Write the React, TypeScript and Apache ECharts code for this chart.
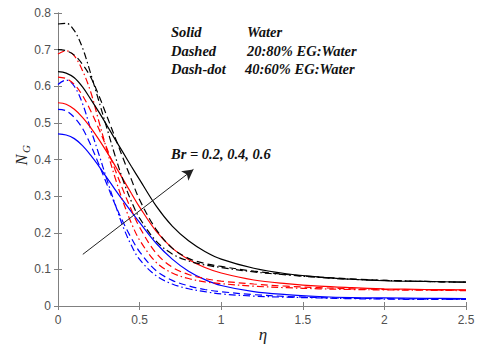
import React, { useEffect, useRef } from "react";
import * as echarts from "echarts";

// similarity variable eta (x axis)
const eta = [0, 0.05, 0.1, 0.15, 0.2, 0.25, 0.3, 0.35, 0.4, 0.45, 0.5, 0.6, 0.7, 0.8, 0.9, 1.0, 1.2, 1.4, 1.6, 1.8, 2.0, 2.25, 2.5];

// Br = 0.6 (black)
const blackSolid = [0.64, 0.636, 0.623, 0.598, 0.565, 0.53, 0.493, 0.455, 0.418, 0.381, 0.345, 0.274, 0.218, 0.178, 0.149, 0.128, 0.103, 0.088, 0.079, 0.073, 0.069, 0.067, 0.065];
const blackDashed = [0.7, 0.697, 0.685, 0.66, 0.625, 0.575, 0.518, 0.46, 0.402, 0.345, 0.29, 0.21, 0.158, 0.13, 0.116, 0.108, 0.095, 0.086, 0.079, 0.074, 0.07, 0.067, 0.065];
const blackDashDot = [0.77, 0.772, 0.752, 0.705, 0.635, 0.56, 0.485, 0.41, 0.342, 0.285, 0.24, 0.178, 0.142, 0.123, 0.112, 0.105, 0.093, 0.085, 0.078, 0.073, 0.07, 0.067, 0.065];
// Br = 0.4 (red)
const redSolid = [0.555, 0.551, 0.537, 0.515, 0.487, 0.455, 0.42, 0.383, 0.345, 0.307, 0.27, 0.205, 0.158, 0.127, 0.105, 0.09, 0.071, 0.061, 0.054, 0.05, 0.047, 0.045, 0.044];
const redDashed = [0.625, 0.621, 0.605, 0.575, 0.533, 0.484, 0.43, 0.372, 0.315, 0.262, 0.215, 0.145, 0.106, 0.086, 0.075, 0.068, 0.06, 0.054, 0.05, 0.047, 0.045, 0.044, 0.043];
const redDashDot = [0.688, 0.697, 0.683, 0.643, 0.585, 0.505, 0.425, 0.35, 0.283, 0.226, 0.18, 0.12, 0.09, 0.075, 0.066, 0.061, 0.054, 0.05, 0.047, 0.045, 0.044, 0.043, 0.042];
// Br = 0.2 (blue)
const blueSolid = [0.47, 0.467, 0.457, 0.438, 0.412, 0.382, 0.35, 0.318, 0.287, 0.257, 0.228, 0.172, 0.128, 0.095, 0.072, 0.056, 0.039, 0.031, 0.026, 0.023, 0.022, 0.021, 0.02];
const blueDashed = [0.537, 0.533, 0.515, 0.485, 0.44, 0.387, 0.332, 0.277, 0.228, 0.185, 0.148, 0.097, 0.07, 0.055, 0.045, 0.039, 0.031, 0.026, 0.023, 0.021, 0.02, 0.019, 0.019];
const blueDashDot = [0.605, 0.617, 0.6, 0.553, 0.483, 0.415, 0.345, 0.278, 0.215, 0.165, 0.127, 0.083, 0.06, 0.047, 0.039, 0.033, 0.027, 0.024, 0.022, 0.02, 0.019, 0.018, 0.018];

const arrowStart = [0.152, 0.141];
const arrowEnd = [0.83, 0.373];

const legendRows = [
  ["Solid", "Water"],
  ["Dashed", "20:80% EG:Water"],
  ["Dash-dot", "40:60% EG:Water"],
];
const brLabel = "Br = 0.2, 0.4, 0.6";

const DASH = [7, 4];
const DASHDOT = [7, 3, 1.5, 3];

export default function App() {
  const ref = useRef<HTMLDivElement>(null);
  useEffect(() => {
    const chart = echarts.init(ref.current!, null, { renderer: "svg" });
    const axisColor = "#808080";
    const labelColor = "#505050";
    const mk = (name: string, vals: number[], color: string, type: any, extra: any = {}) => ({
      name,
      type: "line",
      data: eta.map((e, i) => [e, vals[i]]),
      showSymbol: false,
      smooth: 0.35,
      lineStyle: { color, width: 1.2, type },
      itemStyle: { color },
      silent: true,
      ...extra,
    });
    const serif = "'Liberation Serif', 'Times New Roman', serif";
    const textFont = `italic bold 14.5px ${serif}`;
    const graphics: any[] = [];
    legendRows.forEach((row, i) => {
      graphics.push({
        type: "text", x: 171, y: 32 + i * 18.5,
        style: { text: row[0], font: textFont, fill: "#111", textVerticalAlign: "middle" },
      });
      graphics.push({
        type: "text", x: i === 2 ? 245 : 247, y: 32 + i * 18.5,
        style: { text: row[1], font: textFont, fill: "#111", textVerticalAlign: "middle" },
      });
    });
    graphics.push({
      type: "text", x: 171, y: 154,
      style: { text: brLabel, font: textFont, fill: "#111", textVerticalAlign: "middle" },
    });
    graphics.push({
      type: "group", x: 21, y: 156, rotation: Math.PI / 2,
      children: [
        { type: "text", x: -4, y: 0, style: { text: "N", font: `italic 16px ${serif}`, fill: "#222", textAlign: "center", textVerticalAlign: "middle" } },
        { type: "text", x: 7, y: 5, style: { text: "G", font: `italic 11px ${serif}`, fill: "#222", textAlign: "center", textVerticalAlign: "middle" } },
      ],
    });
    graphics.push({
      type: "text", x: 263, y: 334,
      style: { text: "η", font: `italic 17px ${serif}`, fill: "#222", textAlign: "center", textVerticalAlign: "middle" },
    });

    const baseAxis = {
      axisLine: { show: true, lineStyle: { color: axisColor, width: 1 } },
      axisTick: { show: true, inside: true, length: 4, lineStyle: { color: axisColor } },
      splitLine: { show: false },
    };
    const labelFont = { color: labelColor, fontFamily: "'Liberation Sans', Arial, sans-serif", fontSize: 12 };
    const option: any = {
      animation: false,
      grid: { left: 58, right: 14, top: 13, bottom: 43, containLabel: false },
      xAxis: [
        { ...baseAxis, type: "value", min: 0, max: 2.5, interval: 0.5, position: "bottom", axisLabel: { ...labelFont, margin: 8 } },
        { ...baseAxis, type: "value", min: 0, max: 2.5, interval: 0.5, position: "top", axisLabel: { show: false } },
      ],
      yAxis: [
        { ...baseAxis, type: "value", min: 0, max: 0.8, interval: 0.1, position: "left", axisLabel: { ...labelFont, margin: 7 } },
        { ...baseAxis, type: "value", min: 0, max: 0.8, interval: 0.1, position: "right", axisLabel: { show: false } },
      ],
      graphic: graphics,
      series: [
        mk("Br=0.2 Water", blueSolid, "#0000ff", "solid", {
          markLine: {
            silent: true,
            symbol: ["none", "arrow"],
            symbolSize: [9, 11],
            lineStyle: { color: "#222", width: 1, type: "solid" },
            label: { show: false },
            emphasis: { disabled: true },
            data: [[{ coord: arrowStart }, { coord: arrowEnd }]],
          },
        }),
        mk("Br=0.2 20:80%", blueDashed, "#0000ff", DASH),
        mk("Br=0.2 40:60%", blueDashDot, "#0000ff", DASHDOT),
        mk("Br=0.4 Water", redSolid, "#ff0000", "solid"),
        mk("Br=0.4 20:80%", redDashed, "#ff0000", DASH),
        mk("Br=0.4 40:60%", redDashDot, "#ff0000", DASHDOT),
        mk("Br=0.6 Water", blackSolid, "#000000", "solid"),
        mk("Br=0.6 20:80%", blackDashed, "#000000", DASH),
        mk("Br=0.6 40:60%", blackDashDot, "#000000", DASHDOT),
      ],
    };
    chart.setOption(option);
    return () => chart.dispose();
  }, []);
  return <div ref={ref} style={{ position: "fixed", left: 0, top: 0, width: 480, height: 349, background: "#fff" }} />;
}
